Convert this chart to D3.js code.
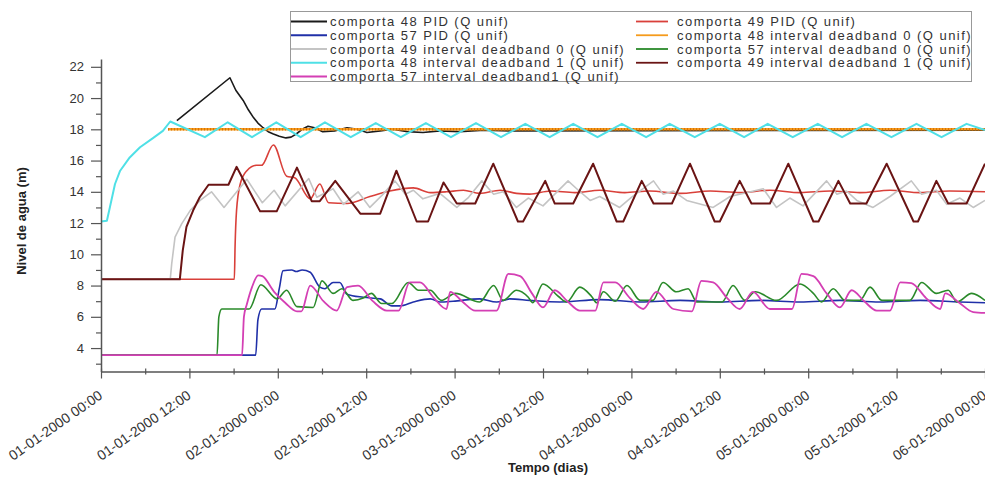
<!DOCTYPE html>
<html>
<head>
<meta charset="utf-8">
<script src="https://cdn.jsdelivr.net/npm/d3@7"></script>
<style>
  html, body { margin: 0; padding: 0; background: #fff; }
  #chart { width: 985px; height: 483px; }
</style>
</head>
<body>
<div id="chart"></div>
<script>
// ---- DATA (hours since 01-01-2000 00:00, level in m) ----
const xTickLabels = ['01-01-2000 00:00', '01-01-2000 12:00', '02-01-2000 00:00', '02-01-2000 12:00',
  '03-01-2000 00:00', '03-01-2000 12:00', '04-01-2000 00:00', '04-01-2000 12:00',
  '05-01-2000 00:00', '05-01-2000 12:00', '06-01-2000 00:00'];
const xTicks = [0, 12, 24, 36, 48, 60, 72, 84, 96, 108, 120];
const xMinorTicks = [6, 18, 30, 42, 54, 66, 78, 90, 102, 114];
const yTicks = [4, 6, 8, 10, 12, 14, 16, 18, 20, 22];
const yMinorTicks = [3, 5, 7, 9, 11, 13, 15, 17, 19, 21];

const pid48 = [[10.3,18.55],[17.5,21.3],[18.3,20.5],[19.3,19.85],[20.0,19.25],[20.7,18.75],[21.3,18.4],
  [22.0,18.1],[22.7,17.85],[23.4,17.7],[24.2,17.55],[25.1,17.45],[25.8,17.5],[26.5,17.7],[27.3,18.0],
  [28.1,18.2],[29.0,18.1],[30.1,17.85],[31.7,17.9],[33.4,18.1],[34.8,18.0],[36.1,17.8],[37.9,17.9],
  [39.6,18.0],[41.6,17.85],[43.7,17.8],[46.0,17.9],[48.7,17.85],[52.0,17.95],[55.5,17.9],[120,17.95]];

const pid49 = [[0,8.4],[18.1,8.4],[18.2,10.5],[18.4,12.8],[18.9,14.5],[19.8,15.35],[21.1,15.7],[21.8,15.7],
  [23.4,17.0],[25.2,15.0],[26.3,14.9],[28.4,13.55],[29.7,14.5],[30.9,13.3],[33.4,13.25],[36.5,13.7],
  [39.2,14.05],[42.4,14.25],[44.7,13.95],[46.9,14.0],[49.2,14.1],[51.4,13.9],[54.2,14.1],[56.4,13.9],
  [58.2,13.85],[61.0,14.05],[64.3,13.95],[67.7,14.1],[71.1,13.95],[74.5,14.05],[78.6,13.9],[82.7,14.05],
  [86.7,13.95],[90.8,14.1],[94.9,13.95],[99.0,14.05],[103.0,13.95],[107.1,14.1],[111.2,13.95],
  [115.2,14.05],[120,14.0]];

const pid57 = [[0,3.55],[21.0,3.55],[21.3,5.8],[21.8,6.5],[23.6,6.5],[24.2,7.8],[24.7,8.95],[25.9,9.0],
  [26.5,8.9],[27.3,9.0],[28.4,8.85],[29.7,7.9],[30.4,7.8],[31.5,8.2],[32.4,8.2],[33.4,7.45],[35.6,7.25],
  [37.9,7.15],[39.5,6.7],[40.6,6.7],[42.4,6.95],[44.7,7.15],[46.0,6.95],[47.8,7.0],[51.4,7.15],
  [53.7,6.95],[55.5,7.15],[58.2,7.05],[62.3,6.95],[67.7,7.1],[73.2,6.95],[78.6,7.05],[84.0,6.95],
  [89.5,7.05],[94.9,6.95],[100.3,7.05],[105.7,6.95],[111.2,7.05],[116.6,6.95],[120,6.9]];

const db0_48 = [[9.1,18.0],[30,18.0],[60,18.0],[90,18.0],[120,18.0]];

const db0_49 = [[0,8.4],[9.4,8.4],[9.6,9.4],[10.05,11.1],[10.95,11.95],[12.1,12.8],[13.45,13.45],
  [15.0,14.0],[16.7,13.0],[19.8,14.8],[21.9,13.3],[23.5,14.1],[25.0,13.1],[28.2,14.85],[29.3,13.65],
  [31.5,14.2],[32.9,13.2],[34.9,14.0],[36.5,13.0],[38.3,13.85],[39.9,14.7],[41.3,13.85],[42.4,14.1],
  [43.7,13.55],[46.0,13.9],[48.3,13.0],[49.9,13.65],[51.7,14.7],[53.3,13.85],[54.6,14.0],[56.4,13.0],
  [58.0,13.6],[60.0,13.1],[63.4,14.7],[64.8,14.1],[66.4,13.45],[67.7,13.7],[70.4,13.0],[72.0,13.65],
  [75.0,14.7],[76.3,13.85],[77.7,14.05],[79.5,13.45],[83.1,13.0],[85.4,13.7],[89.9,14.2],[91.7,13.0],
  [93.5,13.6],[95.3,13.1],[98.5,14.7],[99.9,13.85],[101.2,14.05],[102.6,13.45],[104.8,13.0],
  [107.1,13.7],[110.0,14.7],[111.4,13.85],[113.4,14.1],[114.8,13.2],[116.6,13.6],[118.4,13.0],[120,13.45]];

const db0_57 = [[0,3.55],[15.75,3.55],[16.0,6.0],[16.4,6.5],[20.1,6.5],[21.7,8.05],[23.9,7.15],[25.2,7.7],
  [26.6,6.65],[28.8,6.6],[30.0,8.3],[31.5,7.5],[32.7,7.8],[34.2,7.05],[35.6,7.2],[36.7,7.5],[38.1,6.85],
  [39.5,6.85],[41.7,8.2],[43.1,7.7],[44.7,7.7],[46.2,7.05],[48.1,7.5],[51.4,6.95],[53.3,8.0],[54.6,7.05],
  [56.4,7.7],[58.0,7.25],[58.6,6.9],[60.0,8.1],[62.1,7.3],[63.2,6.95],[65.0,7.9],[66.6,7.3],[67.3,6.9],
  [68.2,7.6],[69.8,7.0],[71.4,8.0],[73.2,7.05],[74.9,7.05],[76.3,8.2],[78.1,7.6],[79.7,7.8],[80.9,6.95],
  [84.3,6.95],[85.8,8.0],[87.4,7.05],[88.8,7.6],[91.7,7.05],[94.9,8.1],[96.7,7.5],[97.8,6.95],[99.4,7.8],
  [101.0,7.05],[103.0,7.05],[104.4,7.9],[106.0,7.05],[109.8,7.05],[111.4,8.2],[113.4,7.5],[115.0,7.7],
  [116.2,6.95],[118.2,7.5],[120,7.05]];

const db1_48 = [[0,12.1],[0.8,12.15],[1.2,13.0],[1.9,14.5],[2.6,15.35],[3.9,16.2],[5.3,16.85],[7.1,17.45],
  [8.4,17.9],[9.4,18.5],[14.1,17.5],[17.2,18.45],[20.5,17.5],[23.8,18.45],[27.1,17.5],[30.4,18.45],
  [33.9,17.5],[37.3,18.4],[40.7,17.5],[44.1,18.4],[47.5,17.5],[50.9,18.4],[54.3,17.5],[57.6,18.35],
  [60.9,17.5],[64.1,18.35],[67.4,17.5],[70.7,18.35],[74.0,17.5],[77.2,18.35],[80.6,17.5],[84.0,18.35],
  [87.3,17.5],[90.5,18.35],[93.9,17.5],[97.3,18.35],[100.6,17.5],[103.9,18.35],[107.3,17.5],
  [110.7,18.35],[114.1,17.5],[117.5,18.35],[120,17.95]];

const db1_49 = [[0,8.4],[10.7,8.4],[11.1,10.25],[11.6,11.75],[12.5,12.8],[13.4,13.65],[14.6,14.45],
  [17.3,14.45],[18.4,15.6],[21.6,12.75],[23.85,12.75],[26.6,15.55],[28.6,13.4],[29.7,13.4],[31.8,14.7],
  [35.2,12.6],[37.9,12.6],[40.1,15.35],[42.85,12.1],[44.4,12.1],[46.5,14.6],[48.3,13.25],[50.8,13.25],
  [53.25,15.8],[56.6,12.1],[57.3,12.1],[60.3,14.7],[61.6,13.25],[64.1,13.25],[66.8,15.8],[70.0,12.1],
  [70.9,12.1],[73.4,14.7],[75.0,13.25],[77.5,13.25],[79.95,15.8],[83.3,12.1],[84.0,12.1],[86.7,14.7],
  [88.3,13.25],[90.8,13.25],[93.3,15.8],[96.7,12.1],[97.4,12.1],[100.1,14.7],[101.7,13.25],[103.9,13.25],
  [106.65,15.8],[110.3,12.1],[110.9,12.1],[113.4,14.7],[115.0,13.25],[117.5,13.25],[120,15.8]];

const db1_57 = [[0,3.55],[19.15,3.55],[19.4,6.0],[19.8,6.8],[20.5,7.9],[21.35,8.65],[21.9,8.6],[23.5,7.6],
  [25.0,6.9],[26.6,6.35],[27.2,6.35],[28.4,8.0],[30.2,7.0],[32.0,6.4],[33.4,7.9],[34.9,8.0],[36.9,7.0],
  [38.8,6.4],[40.4,6.4],[41.9,8.2],[43.3,8.2],[45.2,7.2],[46.9,6.5],[47.4,7.6],[49.0,7.0],[50.8,6.4],
  [53.7,6.4],[55.3,8.75],[56.9,8.6],[58.5,7.5],[60.0,6.6],[61.6,7.7],[63.3,7.0],[65.0,6.4],[67.1,6.4],
  [68.2,8.2],[69.8,8.2],[71.8,7.2],[73.6,6.5],[75.4,7.6],[77.7,6.5],[80.2,6.35],[81.5,8.3],[83.1,8.2],
  [85.0,7.2],[86.7,6.5],[88.5,7.6],[90.8,6.5],[93.8,6.5],[95.1,8.75],[96.7,8.6],[98.5,7.5],[100.3,6.6],
  [101.9,7.7],[103.6,7.0],[105.3,6.4],[107.1,6.4],[108.5,8.2],[110.0,8.15],[112.0,7.2],[113.9,6.5],
  [114.6,7.5],[116.5,6.9],[118.4,6.3],[120,6.25]];

const seriesNames = ['comporta 48 PID (Q unif)', 'comporta 49 PID (Q unif)', 'comporta 57 PID (Q unif)',
  'comporta 48 interval deadband 0 (Q unif)', 'comporta 49 interval deadband 0 (Q unif)',
  'comporta 57 interval deadband 0 (Q unif)', 'comporta 48 interval deadband 1 (Q unif)',
  'comporta 49 interval deadband 1 (Q unif)', 'comporta 57 interval deadband1 (Q unif)'];
const seriesData = [pid48, pid49, pid57, db0_48, db0_49, db0_57, db1_48, db1_49, db1_57];
const seriesColors = ['#1a1a1a', '#d9403a', '#2030a8', '#f59b1c', '#c4c4c4', '#2a8a2a', '#4fe0e6', '#6a1414', '#d43fb4'];
const seriesWidths = [1.6, 1.6, 1.6, 2.4, 1.6, 1.6, 2, 2, 1.8];
// smoother-looking traces in the original (others are sharp zigzags)
const smoothSeries = [1, 2, 5, 8];

// ---- LAYOUT ----
const width = 985, height = 483;
const plot = { left: 101, right: 985, top: 59, bottom: 371.5 };
const font = '"Liberation Sans", Arial, sans-serif';

const svg = d3.select('#chart').append('svg')
  .attr('width', width)
  .attr('height', height)
  .style('background', '#fff');

// scales
const xScale = d3.scaleLinear().domain([0, 120]).range([plot.left, plot.right]);
const yScale = d3.scaleLinear().domain([2.5, 22.5]).range([plot.bottom, plot.top]);

// ---- LINES ----
const line = d3.line()
  .x(d => xScale(d[0]))
  .y(d => yScale(d[1]));
const smoothLine = d3.line()
  .x(d => xScale(d[0]))
  .y(d => yScale(d[1]))
  .curve(d3.curveMonotoneX);

const lines = svg.append('g');
seriesData.forEach((data, i) => {
  lines.append('path')
    .datum(data)
    .attr('d', smoothSeries.includes(i) ? smoothLine : line)
    .attr('fill', 'none')
    .attr('stroke', seriesColors[i])
    .attr('stroke-width', seriesWidths[i])
    .attr('stroke-linejoin', 'round');
  // orange deadband line has a dotted texture
  if (i === 3) {
    lines.append('path')
      .datum(data)
      .attr('d', line)
      .attr('fill', 'none')
      .attr('stroke', '#d97008')
      .attr('stroke-width', 2.4)
      .attr('stroke-dasharray', '1,2');
  }
});

// ---- AXES ----
const axisColor = '#555';

// X axis (major with labels)
const xAxis = svg.append('g')
  .attr('transform', `translate(0,${plot.bottom})`)
  .call(d3.axisBottom(xScale)
    .tickValues(xTicks)
    .tickSizeInner(7)
    .tickSizeOuter(0)
    .tickFormat((d, i) => xTickLabels[i]));
xAxis.select('.domain').attr('stroke', axisColor).attr('stroke-width', 1.5);
xAxis.selectAll('.tick line').attr('y1', -3).attr('stroke', axisColor).attr('stroke-width', 1.2);
xAxis.selectAll('.tick text')
  .attr('x', 0).attr('y', 0).attr('dy', 0)
  .attr('transform', 'translate(2,26) rotate(-35)')
  .attr('text-anchor', 'end')
  .style('font-family', font)
  .style('font-size', '14px')
  .style('fill', '#333');

// X axis minor ticks
const xMinor = svg.append('g')
  .attr('transform', `translate(0,${plot.bottom})`)
  .call(d3.axisBottom(xScale).tickValues(xMinorTicks).tickSize(3).tickFormat(''));
xMinor.select('.domain').remove();
xMinor.selectAll('.tick line').attr('y1', -3).attr('stroke', axisColor).attr('stroke-width', 1.2);

// Y axis (major with labels)
const yAxis = svg.append('g')
  .attr('transform', `translate(${plot.left},0)`)
  .call(d3.axisLeft(yScale)
    .tickValues(yTicks)
    .tickSizeInner(10)
    .tickSizeOuter(0)
    .tickPadding(7));
yAxis.select('.domain').attr('stroke', axisColor).attr('stroke-width', 1.5);
yAxis.selectAll('.tick line').attr('stroke', axisColor).attr('stroke-width', 1.2);
yAxis.selectAll('.tick text')
  .style('font-family', font)
  .style('font-size', '13px')
  .style('fill', '#333');

// Y axis minor ticks
const yMinor = svg.append('g')
  .attr('transform', `translate(${plot.left},0)`)
  .call(d3.axisLeft(yScale).tickValues(yMinorTicks).tickSize(5).tickFormat(''));
yMinor.select('.domain').remove();
yMinor.selectAll('.tick line').attr('stroke', axisColor).attr('stroke-width', 1.2);

// Axis titles
svg.append('text')
  .attr('transform', 'translate(26,221) rotate(-90)')
  .attr('text-anchor', 'middle')
  .text('Nivel de agua (m)')
  .style('font-family', '"Liberation Sans Narrow", "Arial Narrow", ' + font)
  .style('font-size', '13px')
  .style('font-weight', 'bold')
  .style('fill', '#222');

svg.append('text')
  .attr('x', 548)
  .attr('y', 472)
  .attr('text-anchor', 'middle')
  .text('Tempo (dias)')
  .style('font-family', '"Liberation Sans Narrow", "Arial Narrow", ' + font)
  .style('font-size', '13px')
  .style('font-weight', 'bold')
  .style('fill', '#222');

// ---- LEGEND ----
const legend = svg.append('g');
legend.append('rect')
  .attr('x', 290.5).attr('y', 11.5)
  .attr('width', 681).attr('height', 70)
  .attr('fill', '#fff')
  .attr('stroke', '#999');

const colLine = [[291, 327], [636, 668]];
const colText = [330, 677];
seriesNames.forEach((name, i) => {
  const col = i % 2, row = Math.floor(i / 2);
  const cy = 21.5 + row * 13.75;
  legend.append('line')
    .attr('x1', colLine[col][0]).attr('x2', colLine[col][1])
    .attr('y1', cy).attr('y2', cy)
    .attr('stroke', seriesColors[i])
    .attr('stroke-width', 1.8);
  legend.append('text')
    .attr('x', colText[col])
    .attr('y', cy + 4.5)
    .text(name)
    .style('font-family', font)
    .style('font-size', '13px')
    .style('letter-spacing', '1.45px')
    .style('fill', '#333');
});
</script>
</body>
</html>
